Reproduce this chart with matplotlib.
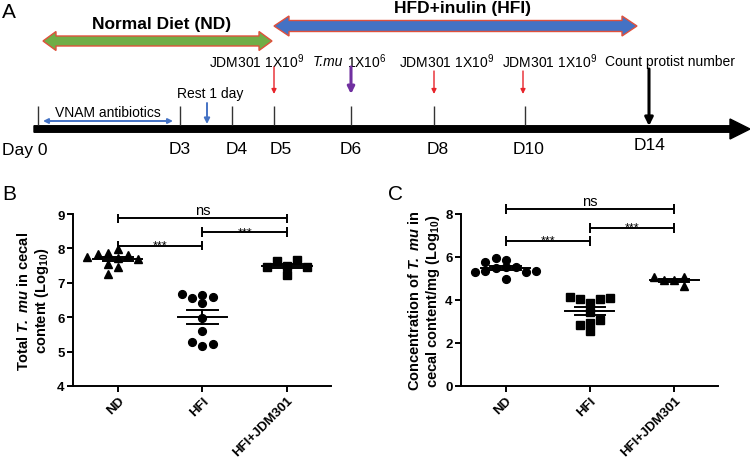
import numpy as np
import matplotlib
matplotlib.use("Agg")
import matplotlib.pyplot as plt
from matplotlib.patches import Polygon, FancyArrow

plt.rcParams['font.family'] = ['Liberation Sans', 'DejaVu Sans']
plt.rcParams['mathtext.fontset'] = 'custom'
plt.rcParams['mathtext.rm'] = 'Liberation Sans'
plt.rcParams['mathtext.it'] = 'Liberation Sans:italic'
plt.rcParams['mathtext.bf'] = 'Liberation Sans:bold'
plt.rcParams['mathtext.bfit'] = 'Liberation Sans:italic:bold'

# ----------------------------
# Data
# ----------------------------
groups = ["ND", "HFI", "HFI+JDM301"]

# B: total T. mu in cecal content (log10)
total_nd = [7.98, 7.88, 7.72, 7.81, 7.83, 7.70, 7.74, 7.54, 7.45, 7.27]
total_hfi = [6.40, 6.55, 6.60, 6.64, 6.68, 5.97, 5.60, 5.17, 5.28, 5.23]
total_jdm = [7.50, 7.62, 7.66, 7.47, 7.45, 7.22]

# C: concentration of T. mu per mg cecal content (log10)
conc_nd = [5.52, 5.50, 5.55, 5.75, 5.87, 5.95, 5.36, 5.31, 5.28, 5.36, 5.00]
conc_hfi = [3.88, 4.04, 4.04, 4.15, 4.07, 3.42, 2.92, 2.85, 2.57, 3.06]
conc_jdm = [4.95, 4.92, 5.05, 5.05, 4.63]

# A: timeline schematic
day_labels = ["Day 0", "D3", "D4", "D5", "D6", "D8", "D10", "D14"]
events = ["JDM301 1X10$^{9}$", "1X10$^{6}$", "JDM301 1X10$^{9}$",
          "JDM301 1X10$^{9}$", "Count protist number"]

label_b = ("$\\mathbf{Total}\\ \\mathbfit{T.\\ mu}\\ \\mathbf{in\\ cecal}$\n"
           "$\\mathbf{content\\ (Log}_{\\mathbf{10}}\\mathbf{)}$")
label_c = ("$\\mathbf{Concentration\\ of}\\ \\mathbfit{T.\\ mu}\\ \\mathbf{in}$\n"
           "$\\mathbf{cecal\\ content/mg\\ (Log}_{\\mathbf{10}}\\mathbf{)}$")

# ----------------------------
# Helpers
# ----------------------------
def double_arrow(ax, x0, x1, y, body, head, head_len, fc, ec):
    pts = [(x0, y), (x0 + head_len, y - head), (x0 + head_len, y - body),
           (x1 - head_len, y - body), (x1 - head_len, y - head), (x1, y),
           (x1 - head_len, y + head), (x1 - head_len, y + body),
           (x0 + head_len, y + body), (x0 + head_len, y + head)]
    ax.add_patch(Polygon(pts, closed=True, fc=fc, ec=ec, lw=1.0))


def swarm(vals, h):
    order = [0, -1, 1, -2, 2, -3, 3]
    placed = []
    slots = []
    for v in vals:
        for s in order:
            if all(not (ps == s and abs(pv - v) < h) for pv, ps in placed):
                break
        placed.append((v, s))
        slots.append(s)
    return np.array(slots)


def bracket(ax, x0, x1, y, cap, text, fs, dy):
    kw = dict(color='black', lw=1.4, clip_on=False, solid_capstyle='butt')
    ax.plot([x0, x1], [y, y], **kw)
    for x in (x0, x1):
        ax.plot([x, x], [y - cap, y + cap], **kw)
    ax.annotate(text, xy=((x0 + x1) / 2, y), xytext=(0, dy),
                textcoords='offset points', ha='center', va='baseline',
                fontsize=fs, annotation_clip=False)


def dot_panel(ax, data, markers, h, ylim, yticks, ylabel, cap, brackets, lab_x):
    for i, (vals, m) in enumerate(zip(data, markers)):
        vals = np.asarray(vals)
        xs = i + swarm(vals, h) * 0.12
        ax.plot(xs, vals, ls='none', marker=m, ms=5.6, color='black',
                clip_on=False, zorder=3)
        mean = vals.mean()
        sem = vals.std(ddof=1) / np.sqrt(len(vals))
        ax.plot([i - 0.29, i + 0.29], [mean, mean], color='black', lw=1.4, zorder=4)
        ax.plot([i, i], [mean - sem, mean + sem], color='black', lw=1.4, zorder=4)
        for yy in (mean - sem, mean + sem):
            ax.plot([i - 0.18, i + 0.18], [yy, yy], color='black', lw=1.4, zorder=4)
    for x0, x1, y, text in brackets:
        if text == "ns":
            bracket(ax, x0, x1, y, cap, text, 10.5, 3)
        else:
            bracket(ax, x0, x1, y, cap, text, 9, -2)
    ax.set_xlim(-0.53, 2.52)
    ax.set_ylim(*ylim)
    ax.set_yticks(yticks)
    ax.set_xticks(range(len(groups)))
    ax.set_xticklabels(groups, rotation=45, ha='right', rotation_mode='anchor',
                       fontsize=9.5, fontweight='bold')
    for t in ax.get_yticklabels():
        t.set_fontweight('bold')
        t.set_fontsize(9.5)
    for s in ('top', 'right'):
        ax.spines[s].set_visible(False)
    for s in ('left', 'bottom'):
        ax.spines[s].set_linewidth(1.4)
    ax.tick_params(width=1.4, length=4, pad=2)
    ax.set_ylabel(ylabel, fontsize=10.5, linespacing=1.15)
    ax.yaxis.set_label_coords(lab_x, 0.5)


# ----------------------------
# Figure
# ----------------------------
fig = plt.figure(figsize=(7.5, 4.6), dpi=100)

# Panel A: schematic in pixel-like units
axA = fig.add_axes([0, 1 - 175 / 460, 1, 175 / 460])
axA.set_xlim(0, 750)
axA.set_ylim(175, 0)
axA.axis('off')

axA.text(2, 13, "A", fontsize=15, va='center', ha='left')
double_arrow(axA, 43, 272, 42, 5, 9.5, 13, '#70AD47', '#E0503C')
axA.text(162, 25, "Normal Diet (ND)", fontsize=12.5, fontweight='bold',
         ha='center', va='center')
double_arrow(axA, 274, 637, 27, 5.5, 10, 15, '#4472C4', '#E0503C')
axA.text(462, 9, "HFD+inulin (HFI)", fontsize=12.5, fontweight='bold',
         ha='center', va='center')

axA.add_patch(FancyArrow(34, 130, 716, 0, width=6.5, head_width=20,
                         head_length=20, length_includes_head=True,
                         color='black'))
tick_x = [38, 180, 232, 274, 351, 434, 525]
axA.vlines(tick_x, 107, 126, color='#333333', lw=1)
label_x = [25, 180, 237, 281, 351, 438, 529, 650]
label_y = [150, 150, 150, 150, 150, 150, 150, 146]
for lx, ly, lab in zip(label_x, label_y, day_labels):
    axA.text(lx, ly, lab, fontsize=12.5, ha='center', va='center')

axA.text(108, 113, "VNAM antibiotics", fontsize=10, ha='center', va='center')
axA.annotate('', xy=(173, 122), xytext=(43, 122),
             arrowprops=dict(arrowstyle='<|-|>', color='#4472C4', lw=1.4,
                             mutation_scale=7, shrinkA=0, shrinkB=0))
axA.text(210, 94, "Rest 1 day", fontsize=10, ha='center', va='center')
axA.annotate('', xy=(207, 125), xytext=(207, 104),
             arrowprops=dict(arrowstyle='-|>', color='#4472C4', lw=1.4,
                             mutation_scale=8, shrinkA=0, shrinkB=0))

event_x = [257, 367, 447, 550, 670]
for ex, ev in zip(event_x, events):
    axA.text(ex, 62, ev, fontsize=10, ha='center', va='center')
axA.text(328, 62, "T.mu", fontsize=10, style='italic', ha='center', va='center')

for x, y0 in [(274, 68), (434, 72), (523, 72)]:
    axA.annotate('', xy=(x, 95), xytext=(x, y0),
                 arrowprops=dict(arrowstyle='-|>', color='#E8232A', lw=1.0,
                                 mutation_scale=7, shrinkA=0, shrinkB=0))
axA.annotate('', xy=(351, 95), xytext=(351, 68),
             arrowprops=dict(arrowstyle='-|>', color='#7030A0', lw=2.2,
                             mutation_scale=10, shrinkA=0, shrinkB=0))
axA.annotate('', xy=(649, 127), xytext=(649, 70),
             arrowprops=dict(arrowstyle='-|>', color='black', lw=2.2,
                             mutation_scale=12, shrinkA=0, shrinkB=0))

# Panel B
axB = fig.add_axes([73 / 750, 73 / 460, 258 / 750, 172 / 460])
dot_panel(axB, [total_nd, total_hfi, total_jdm], ['^', 'o', 's'], 0.22,
          (4, 9), range(4, 10), label_b,
          0.14, [(0, 1, 8.08, "***"), (1, 2, 8.47, "***"), (0, 2, 8.87, "ns")],
          -0.085)
fig.text(2 / 750, 1 - 195 / 460, "B", fontsize=15, va='center', ha='left')

# Panel C
axC = fig.add_axes([461 / 750, 73 / 460, 257 / 750, 172 / 460])
dot_panel(axC, [conc_nd, conc_hfi, conc_jdm], ['o', 's', '^'], 0.35,
          (0, 8), range(0, 9, 2), label_c,
          0.23, [(0, 1, 6.76, "***"), (1, 2, 7.35, "***"), (0, 2, 8.23, "ns")],
          -0.074)
fig.text(388 / 750, 1 - 194 / 460, "C", fontsize=15, va='center', ha='left')

fig.savefig("out.png", dpi=100)
